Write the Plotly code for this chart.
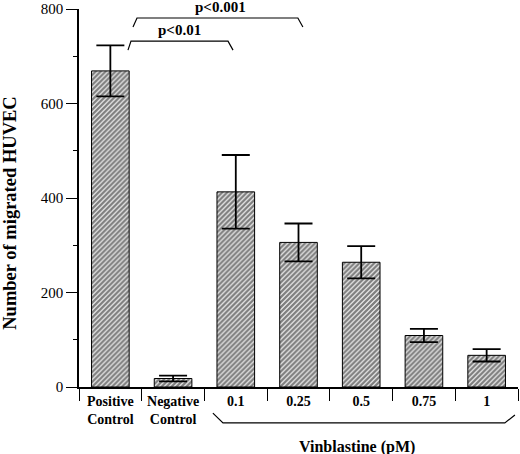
import plotly.graph_objects as go

# data
categories = ["Positive<br>Control", "Negative<br>Control", "0.1", "0.25", "0.5", "0.75", "1"]
migrated = [669, 18, 413, 306, 264, 109, 67]
sem = [54, 6, 78, 40, 34, 14, 13]

y_ticks = [0, 200, 400, 600, 800]

FONT = "Liberation Serif"

fig = go.Figure()

fig.add_trace(
    go.Bar(
        x=categories,
        y=migrated,
        width=0.6,
        marker=dict(
            color="white",
            line=dict(color="black", width=1),
            pattern=dict(shape="/", fgcolor="black", bgcolor="white", size=3.5, solidity=0.7),
        ),
        error_y=dict(type="data", array=sem, color="black", thickness=1.8, width=14),
        showlegend=False,
    )
)

# significance brackets (data coords of the category axis)
for xs, ys in [
    ([0.281, 0.329, 1.876, 1.956], [713, 732, 732, 713]),
    ([0.361, 0.425, 2.99, 3.07], [762, 781, 781, 762]),
]:
    path = f"M {xs[0]},{ys[0]} L {xs[1]},{ys[1]} L {xs[2]},{ys[2]} L {xs[3]},{ys[3]}"
    fig.add_shape(type="path", path=path, xref="x", yref="y", line=dict(color="black", width=1.2))

fig.add_annotation(x=1.1, y=735, text="<b>p<0.01</b>", showarrow=False, yanchor="bottom",
                   xref="x", yref="y", font=dict(family=FONT, size=15, color="black"))
fig.add_annotation(x=1.75, y=784, text="<b>p<0.001</b>", showarrow=False, yanchor="bottom",
                   xref="x", yref="y", font=dict(family=FONT, size=15, color="black"))

# bracket under the vinblastine doses
fig.add_shape(
    type="path",
    path="M 0.305,-0.069 L 0.328,-0.095 L 0.970,-0.095 L 0.993,-0.074",
    xref="x domain", yref="y domain",
    line=dict(color="black", width=1.2),
)
fig.add_annotation(x=0.633, y=-0.158, xref="x domain", yref="y domain", showarrow=False,
                   text="<b>Vinblastine (pM)</b>", yanchor="middle",
                   font=dict(family=FONT, size=16, color="black"))

# y title sits a bit below the middle of the axis in the reference
fig.add_annotation(x=-0.158, y=0.46, xref="x domain", yref="y domain", showarrow=False,
                   text="<b>Number of migrated HUVEC</b>", textangle=-90,
                   xanchor="center", yanchor="middle",
                   font=dict(family=FONT, size=18.5, color="black"))

fig.update_xaxes(
    type="category",
    range=[-0.5, 6.5],
    showline=True, linecolor="black", linewidth=1.5,
    ticks="outside", tickson="boundaries", ticklen=12, tickcolor="black", tickwidth=1.2,
    tickfont=dict(family=FONT, size=14, color="black"),
    tickangle=0,
    tickprefix="<b>", ticksuffix="</b>",
    showgrid=False, zeroline=False,
)
fig.update_yaxes(
    range=[0, 800],
    tickvals=y_ticks,
    tickprefix="<b>", ticksuffix="</b>",
    showline=True, linecolor="black", linewidth=1.5,
    ticks="outside", ticklen=11, tickcolor="black", tickwidth=1.2,
    minor=dict(dtick=100, ticks="outside", ticklen=4, tickcolor="black", tickwidth=1.2),
    tickfont=dict(family=FONT, size=15, color="black"),
    showgrid=False, zeroline=False,
)

fig.update_layout(
    width=520,
    height=454,
    margin=dict(l=79, r=2, t=9, b=67),
    paper_bgcolor="white",
    plot_bgcolor="white",
    bargap=0.4,
)

# drop the default body margin so the figure sits at the window corner
fig.write_html(
    "out.html",
    config={"displayModeBar": False},
    post_script="document.body.style.margin='0';",
)
